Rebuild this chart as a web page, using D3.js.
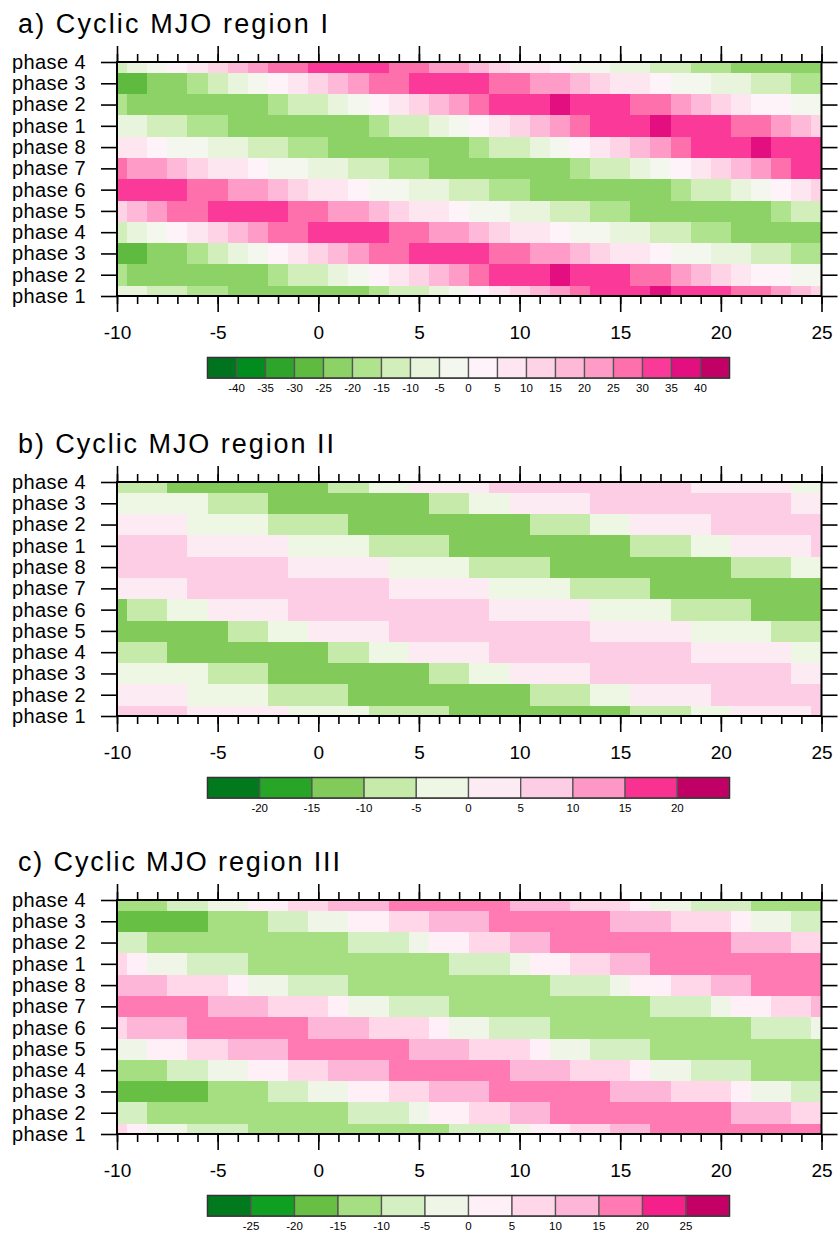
<!DOCTYPE html>
<html>
<head>
<meta charset="utf-8">
<script src="https://cdn.jsdelivr.net/npm/d3@7"></script>
<style>
  html, body { margin: 0; padding: 0; background: #fff; }
  svg { display: block; font-family: "Liberation Sans", Arial, Helvetica, sans-serif; }
</style>
</head>
<body>
<svg id="chart" width="840" height="1234"></svg>
<script>
// ---------------- DATA ----------------
const days = [-10,-9,-8,-7,-6,-5,-4,-3,-2,-1,0,1,2,3,4,5,6,7,8,9,10,11,12,13,14,15,16,17,18,19,20,21,22,23,24,25];
const rowLabels = ["phase 1","phase 2","phase 3","phase 4","phase 5","phase 6","phase 7","phase 8","phase 1","phase 2","phase 3","phase 4"];
const xTickValues = [-10,-5,0,5,10,15,20,25];

// Region I (panel a)
const regionI_levels = [-40,-35,-30,-25,-20,-15,-10,-5,0,5,10,15,20,25,30,35,40];
const regionI_colors = ["#00731f","#008d1e","#2fa42b","#5fbb40","#8cd267","#b0e38d","#d1eebb","#e8f5dc","#f4f7ee",
                        "#fdf3f8","#fee6f0","#ffd3e6","#feb9d9","#fe9cc7","#fe70ab","#fb3998","#e30f80","#c20066"];
const regionI_phase1 = [-7.5,-7.5,-12.5,-12.5,-17.5,-17.5,-22.5,-22.5,-22.5,-22.5,-22.5,-22.5,-22.5,-17.5,-12.5,-12.5,-7.5,-2.5,2.5,7.5,12.5,17.5,22.5,27.5,32.5,32.5,32.5,37.5,32.5,32.5,32.5,27.5,27.5,22.5,17.5,12.5];
const regionI_phase2 = [-17.5,-22.5,-22.5,-22.5,-22.5,-22.5,-22.5,-22.5,-17.5,-12.5,-12.5,-7.5,-2.5,2.5,7.5,12.5,17.5,22.5,27.5,32.5,32.5,32.5,37.5,32.5,32.5,32.5,27.5,27.5,22.5,17.5,12.5,7.5,2.5,2.5,-2.5,-2.5];
const regionI_phase3 = [-27.5,-27.5,-22.5,-22.5,-17.5,-12.5,-7.5,-2.5,2.5,7.5,12.5,17.5,22.5,27.5,27.5,32.5,32.5,32.5,32.5,27.5,27.5,22.5,22.5,17.5,12.5,7.5,7.5,2.5,-2.5,-2.5,-7.5,-7.5,-12.5,-12.5,-17.5,-17.5];
const regionI_phase4 = [-12.5,-7.5,-2.5,2.5,7.5,12.5,17.5,22.5,27.5,27.5,32.5,32.5,32.5,32.5,27.5,27.5,22.5,22.5,17.5,12.5,7.5,7.5,2.5,-2.5,-2.5,-7.5,-7.5,-12.5,-12.5,-17.5,-17.5,-22.5,-22.5,-22.5,-22.5,-22.5];
const regionI_phase5 = [12.5,17.5,22.5,27.5,27.5,32.5,32.5,32.5,32.5,27.5,27.5,22.5,22.5,17.5,12.5,7.5,7.5,2.5,-2.5,-2.5,-7.5,-7.5,-12.5,-12.5,-17.5,-17.5,-22.5,-22.5,-22.5,-22.5,-22.5,-22.5,-22.5,-17.5,-12.5,-12.5];
const regionI_phase6 = [32.5,32.5,32.5,32.5,27.5,27.5,22.5,22.5,17.5,12.5,7.5,7.5,2.5,-2.5,-2.5,-7.5,-7.5,-12.5,-12.5,-17.5,-17.5,-22.5,-22.5,-22.5,-22.5,-22.5,-22.5,-22.5,-17.5,-12.5,-12.5,-7.5,-2.5,2.5,7.5,12.5];
const regionI_phase7 = [27.5,22.5,22.5,17.5,12.5,7.5,7.5,2.5,-2.5,-2.5,-7.5,-7.5,-12.5,-12.5,-17.5,-17.5,-22.5,-22.5,-22.5,-22.5,-22.5,-22.5,-22.5,-17.5,-12.5,-12.5,-7.5,-2.5,2.5,7.5,12.5,17.5,22.5,27.5,32.5,32.5];
const regionI_phase8 = [7.5,7.5,2.5,-2.5,-2.5,-7.5,-7.5,-12.5,-12.5,-17.5,-17.5,-22.5,-22.5,-22.5,-22.5,-22.5,-22.5,-22.5,-17.5,-12.5,-12.5,-7.5,-2.5,2.5,7.5,12.5,17.5,22.5,27.5,32.5,32.5,32.5,37.5,32.5,32.5,32.5];

// Region II (panel b)
const regionII_levels = [-20,-15,-10,-5,0,5,10,15,20];
const regionII_colors = ["#007a1d","#27a526","#82cb5a","#c6eaaa","#eef7e3","#fdebf3","#fdcde5","#fd97c5","#f93190","#c00064"];
const regionII_phase1 = [7.5,7.5,7.5,7.5,2.5,2.5,2.5,2.5,2.5,-2.5,-2.5,-2.5,-2.5,-7.5,-7.5,-7.5,-7.5,-12.5,-12.5,-12.5,-12.5,-12.5,-12.5,-12.5,-12.5,-12.5,-7.5,-7.5,-7.5,-2.5,-2.5,2.5,2.5,2.5,2.5,7.5];
const regionII_phase2 = [2.5,2.5,2.5,2.5,-2.5,-2.5,-2.5,-2.5,-7.5,-7.5,-7.5,-7.5,-12.5,-12.5,-12.5,-12.5,-12.5,-12.5,-12.5,-12.5,-12.5,-7.5,-7.5,-7.5,-2.5,-2.5,2.5,2.5,2.5,2.5,7.5,7.5,7.5,7.5,7.5,7.5];
const regionII_phase3 = [-2.5,-2.5,-2.5,-2.5,-2.5,-7.5,-7.5,-7.5,-12.5,-12.5,-12.5,-12.5,-12.5,-12.5,-12.5,-12.5,-7.5,-7.5,-2.5,-2.5,2.5,2.5,2.5,2.5,7.5,7.5,7.5,7.5,7.5,7.5,7.5,7.5,7.5,7.5,2.5,2.5];
const regionII_phase4 = [-7.5,-7.5,-7.5,-12.5,-12.5,-12.5,-12.5,-12.5,-12.5,-12.5,-12.5,-7.5,-7.5,-2.5,-2.5,2.5,2.5,2.5,2.5,7.5,7.5,7.5,7.5,7.5,7.5,7.5,7.5,7.5,7.5,2.5,2.5,2.5,2.5,2.5,-2.5,-2.5];
const regionII_phase5 = [-12.5,-12.5,-12.5,-12.5,-12.5,-12.5,-7.5,-7.5,-2.5,-2.5,2.5,2.5,2.5,2.5,7.5,7.5,7.5,7.5,7.5,7.5,7.5,7.5,7.5,7.5,2.5,2.5,2.5,2.5,2.5,-2.5,-2.5,-2.5,-2.5,-7.5,-7.5,-7.5];
const regionII_phase6 = [-12.5,-7.5,-7.5,-2.5,-2.5,2.5,2.5,2.5,2.5,7.5,7.5,7.5,7.5,7.5,7.5,7.5,7.5,7.5,7.5,2.5,2.5,2.5,2.5,2.5,-2.5,-2.5,-2.5,-2.5,-7.5,-7.5,-7.5,-7.5,-12.5,-12.5,-12.5,-12.5];
const regionII_phase7 = [2.5,2.5,2.5,2.5,7.5,7.5,7.5,7.5,7.5,7.5,7.5,7.5,7.5,7.5,2.5,2.5,2.5,2.5,2.5,-2.5,-2.5,-2.5,-2.5,-7.5,-7.5,-7.5,-7.5,-12.5,-12.5,-12.5,-12.5,-12.5,-12.5,-12.5,-12.5,-12.5];
const regionII_phase8 = [7.5,7.5,7.5,7.5,7.5,7.5,7.5,7.5,7.5,2.5,2.5,2.5,2.5,2.5,-2.5,-2.5,-2.5,-2.5,-7.5,-7.5,-7.5,-7.5,-12.5,-12.5,-12.5,-12.5,-12.5,-12.5,-12.5,-12.5,-12.5,-7.5,-7.5,-7.5,-2.5,-2.5];

// Region III (panel c)
const regionIII_levels = [-25,-20,-15,-10,-5,0,5,10,15,20,25];
const regionIII_colors = ["#007a1d","#0fa022","#67bf43","#a6df81","#d4efc1","#eff6e8","#fef0f6","#ffd7e9","#fdb5d8","#ff7ab3","#f5208a","#c40064"];
const regionIII_phase1 = [7.5,2.5,-2.5,-2.5,-7.5,-7.5,-7.5,-12.5,-12.5,-12.5,-12.5,-12.5,-12.5,-12.5,-12.5,-12.5,-12.5,-7.5,-7.5,-7.5,-2.5,2.5,2.5,7.5,7.5,12.5,12.5,17.5,17.5,17.5,17.5,17.5,17.5,17.5,17.5,17.5];
const regionIII_phase2 = [-7.5,-7.5,-12.5,-12.5,-12.5,-12.5,-12.5,-12.5,-12.5,-12.5,-12.5,-12.5,-7.5,-7.5,-7.5,-2.5,2.5,2.5,7.5,7.5,12.5,12.5,17.5,17.5,17.5,17.5,17.5,17.5,17.5,17.5,17.5,12.5,12.5,12.5,7.5,7.5];
const regionIII_phase3 = [-17.5,-17.5,-17.5,-17.5,-17.5,-12.5,-12.5,-12.5,-7.5,-7.5,-2.5,-2.5,2.5,2.5,7.5,7.5,12.5,12.5,12.5,17.5,17.5,17.5,17.5,17.5,17.5,12.5,12.5,12.5,7.5,7.5,7.5,2.5,-2.5,-2.5,-7.5,-7.5];
const regionIII_phase4 = [-12.5,-12.5,-12.5,-7.5,-7.5,-2.5,-2.5,2.5,2.5,7.5,7.5,12.5,12.5,12.5,17.5,17.5,17.5,17.5,17.5,17.5,12.5,12.5,12.5,7.5,7.5,7.5,2.5,-2.5,-2.5,-7.5,-7.5,-7.5,-12.5,-12.5,-12.5,-12.5];
const regionIII_phase5 = [-2.5,-2.5,2.5,2.5,7.5,7.5,12.5,12.5,12.5,17.5,17.5,17.5,17.5,17.5,17.5,12.5,12.5,12.5,7.5,7.5,7.5,2.5,-2.5,-2.5,-7.5,-7.5,-7.5,-12.5,-12.5,-12.5,-12.5,-12.5,-12.5,-12.5,-12.5,-12.5];
const regionIII_phase6 = [7.5,12.5,12.5,12.5,17.5,17.5,17.5,17.5,17.5,17.5,12.5,12.5,12.5,7.5,7.5,7.5,2.5,-2.5,-2.5,-7.5,-7.5,-7.5,-12.5,-12.5,-12.5,-12.5,-12.5,-12.5,-12.5,-12.5,-12.5,-12.5,-7.5,-7.5,-7.5,-2.5];
const regionIII_phase7 = [17.5,17.5,17.5,17.5,17.5,12.5,12.5,12.5,7.5,7.5,7.5,2.5,-2.5,-2.5,-7.5,-7.5,-7.5,-12.5,-12.5,-12.5,-12.5,-12.5,-12.5,-12.5,-12.5,-12.5,-12.5,-7.5,-7.5,-7.5,-2.5,2.5,2.5,7.5,7.5,12.5];
const regionIII_phase8 = [12.5,12.5,12.5,7.5,7.5,7.5,2.5,-2.5,-2.5,-7.5,-7.5,-7.5,-12.5,-12.5,-12.5,-12.5,-12.5,-12.5,-12.5,-12.5,-12.5,-12.5,-7.5,-7.5,-7.5,-2.5,2.5,2.5,7.5,7.5,12.5,12.5,17.5,17.5,17.5,17.5];

// ---------------- LAYOUT ----------------
const panels = [
  { id: "a", title: "a) Cyclic MJO region I", top: 62, titleW: 310,
    levels: regionI_levels, colors: regionI_colors,
    phases: [regionI_phase1,regionI_phase2,regionI_phase3,regionI_phase4,regionI_phase5,regionI_phase6,regionI_phase7,regionI_phase8] },
  { id: "b", title: "b) Cyclic MJO region II", top: 482, titleW: 316,
    levels: regionII_levels, colors: regionII_colors,
    phases: [regionII_phase1,regionII_phase2,regionII_phase3,regionII_phase4,regionII_phase5,regionII_phase6,regionII_phase7,regionII_phase8] },
  { id: "c", title: "c) Cyclic MJO region III", top: 900, titleW: 322,
    levels: regionIII_levels, colors: regionIII_colors,
    phases: [regionIII_phase1,regionIII_phase2,regionIII_phase3,regionIII_phase4,regionIII_phase5,regionIII_phase6,regionIII_phase7,regionIII_phase8] }
];

const plotLeft = 117, plotRight = 821.5, plotH = 234;
const svg = d3.select("#chart");
const x = d3.scaleLinear().domain([-10, 25]).range([plotLeft, plotRight]);
const minorTicks = days;

panels.forEach(p => {
  const g = svg.append("g");
  const y = d3.scaleLinear().domain([0, 11]).range([p.top + plotH, p.top]);
  const color = d3.scaleThreshold().domain(p.levels).range(p.colors);

  // title
  g.append("text")
    .attr("x", 18).attr("y", p.top - 29)
    .attr("font-size", 27)
    .attr("textLength", p.titleW).attr("lengthAdjust", "spacing")
    .attr("fill", "#000")
    .text(p.title);

  // clip
  const clipId = "clip-" + p.id;
  svg.append("clipPath").attr("id", clipId)
    .append("rect").attr("x", x(-10)).attr("y", p.top)
    .attr("width", x(25) - x(-10)).attr("height", plotH);

  // cells
  const cells = [];
  rowLabels.forEach((lab, r) => {
    const vals = p.phases[r % 8];
    days.forEach((d, k) => cells.push({ r, d, v: vals[k] }));
  });
  g.append("g").attr("clip-path", `url(#${clipId})`)
    .selectAll("rect").data(cells).join("rect")
    .attr("x", c => x(c.d - 0.5))
    .attr("width", c => x(c.d + 0.5) - x(c.d - 0.5) + 0.3)
    .attr("y", c => y(c.r + 0.5))
    .attr("height", c => y(c.r - 0.5) - y(c.r + 0.5) + 0.3)
    .attr("fill", c => color(c.v))
    .attr("shape-rendering", "crispEdges");

  // axes
  const axStyle = sel => {
    sel.select(".domain").remove();
    sel.selectAll("line").attr("stroke", "#000").attr("stroke-width", 1.6);
    sel.selectAll("text").attr("font-size", 19).attr("fill", "#000")
      .attr("font-family", '"Liberation Sans", Arial, sans-serif');
  };
  // bottom major + minor
  g.append("g").attr("transform", `translate(0,${p.top + plotH})`)
    .call(d3.axisBottom(x).tickValues(minorTicks).tickSize(8).tickFormat("")).call(axStyle);
  g.append("g").attr("transform", `translate(0,${p.top + plotH})`)
    .call(d3.axisBottom(x).tickValues(xTickValues).tickSize(16).tickPadding(14).tickFormat(v => String(v)))
    .call(axStyle);
  // top major + minor
  g.append("g").attr("transform", `translate(0,${p.top})`)
    .call(d3.axisTop(x).tickValues(minorTicks).tickSize(8).tickFormat("")).call(axStyle);
  g.append("g").attr("transform", `translate(0,${p.top})`)
    .call(d3.axisTop(x).tickValues(xTickValues).tickSize(16).tickFormat("")).call(axStyle);
  // left
  g.append("g").attr("transform", `translate(${plotLeft},0)`)
    .call(d3.axisLeft(y).tickValues(d3.range(rowLabels.length)).tickSize(16).tickPadding(15)
      .tickFormat(i => rowLabels[i]))
    .call(axStyle)
    .call(s => s.selectAll("text").attr("font-size", 20).attr("letter-spacing", 0.4));
  // right
  g.append("g").attr("transform", `translate(${plotRight},0)`)
    .call(d3.axisRight(y).tickValues(d3.range(rowLabels.length)).tickSize(16).tickFormat(""))
    .call(axStyle);

  // frame
  g.append("rect").attr("x", x(-10)).attr("y", p.top)
    .attr("width", x(25) - x(-10)).attr("height", plotH)
    .attr("fill", "none").attr("stroke", "#000").attr("stroke-width", 2);

  // colorbar
  const cbTop = p.top + 295.5, cbH = 20.6;
  const n = p.colors.length;
  const cx = d3.scaleLinear().domain([0, n]).range([207.5, 729.5]);
  const cb = g.append("g");
  cb.selectAll("rect").data(p.colors).join("rect")
    .attr("x", (c, i) => cx(i)).attr("y", cbTop)
    .attr("width", cx(1) - cx(0)).attr("height", cbH)
    .attr("fill", c => c)
    .attr("stroke", "#555").attr("stroke-width", 1.3);
  cb.append("rect").attr("x", cx(0)).attr("y", cbTop).attr("width", cx(n) - cx(0)).attr("height", cbH)
    .attr("fill", "none").attr("stroke", "#333").attr("stroke-width", 1.3);
  cb.selectAll("text").data(p.levels).join("text")
    .attr("x", (l, i) => cx(i + 1)).attr("y", cbTop + cbH + 14)
    .attr("text-anchor", "middle").attr("font-size", 11.5).attr("fill", "#000")
    .text(l => String(l));
});
</script>
</body>
</html>
